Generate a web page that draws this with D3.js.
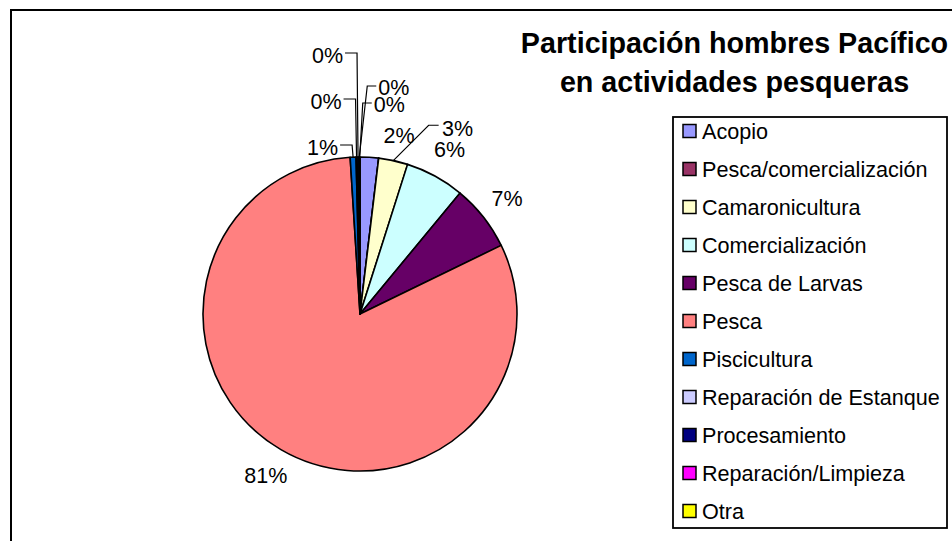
<!DOCTYPE html>
<html>
<head>
<meta charset="utf-8">
<script src="https://cdn.jsdelivr.net/npm/d3@7"></script>
<style>
  body { margin: 0; background: #fff; }
  svg { display: block; font-family: "Liberation Sans", Arial, sans-serif; }
</style>
</head>
<body>
<div id="chart"></div>
<script>
const categories = ['Acopio', 'Pesca/comercialización', 'Camaronicultura', 'Comercialización',
    'Pesca de Larvas', 'Pesca', 'Piscicultura', 'Reparación de Estanque', 'Procesamiento',
    'Reparación/Limpieza', 'Otra'];
const shares = [1.9, 0, 3.0, 6.1, 6.8, 81.2, 0.6, 0.1, 0.2, 0.05, 0.05];
const colors = ['#9999FF', '#993366', '#FFFFCC', '#CCFFFF', '#660066', '#FF8080',
    '#0066CC', '#CCCCFF', '#000080', '#FF00FF', '#FFFF00'];
const titleLines = ['Participación hombres Pacífico', 'en actividades pesqueras'];

const width = 952, height = 541;
const cx = 360, cy = 314, radius = 157;
const labelRadius = 187;

// Excel "best fit" moved a couple of labels, keep those nudges here
const labelShift = {
    'Acopio': { dx: 28, dy: 8 },
    'Camaronicultura': { dx: 58, dy: -3, leader: true }
};

const data = categories.map((c, i) => ({ name: c, value: shares[i], color: colors[i] }));
const total = d3.sum(data, d => d.value);
const fmt = d3.format('.0%');

const svg = d3.select('#chart').append('svg')
    .attr('width', width)
    .attr('height', height);

// chart area border (cut by the page on right / bottom)
svg.append('rect')
    .attr('x', 11).attr('y', 10)
    .attr('width', 1000).attr('height', 600)
    .attr('fill', 'none').attr('stroke', '#000').attr('stroke-width', 2);

const pie = d3.pie().sort(null).value(d => d.value);
const arcs = pie(data);
const arc = d3.arc().innerRadius(0).outerRadius(radius);

const g = svg.append('g').attr('transform', `translate(${cx},${cy})`);

g.selectAll('path')
    .data(arcs)
    .join('path')
    .attr('d', arc)
    .attr('fill', d => d.data.color)
    .attr('stroke', '#000')
    .attr('stroke-width', 1.6)
    .attr('stroke-linejoin', 'round');

const pt = (a, r) => [r * Math.sin(a), -r * Math.cos(a)];
const mid = d => (d.startAngle + d.endAngle) / 2;

const labels = g.append('g')
    .style('font-size', '21.5px')
    .attr('fill', '#000');
const leaders = g.append('g')
    .attr('fill', 'none')
    .attr('stroke', '#000')
    .attr('stroke-width', 1.2);

const visible = arcs.filter(d => d.value > 0);
const big = visible.filter(d => d.value / total >= 0.01);
const tiny = visible.filter(d => d.value / total < 0.01);

big.forEach(d => {
    let [x, y] = pt(mid(d), labelRadius);
    const s = labelShift[d.data.name];
    if (s) { x += s.dx; y += s.dy; }
    labels.append('text')
        .attr('x', x).attr('y', y)
        .attr('dy', '0.35em')
        .attr('text-anchor', 'middle')
        .text(fmt(d.value / total));
    if (s && s.leader) {
        const a = pt(mid(d), radius);
        const xe = x - 19;
        leaders.append('polyline')
            .attr('points', [a, [xe - 10, y - 3], [xe, y - 3]].map(p => p.join(',')).join(' '));
    }
});

// tiny slices: first three stacked on the left, the rest on the right
const pieTop = -radius;
tiny.forEach((d, i) => {
    const a = pt(mid(d), radius);
    let ex, ey, tx, anchor, ty;
    if (i < 3) {
        ey = pieTop - 12 - 46 * i;
        ex = a[0] - 1;
        tx = ex - 14;
        ty = ey + 2;
        anchor = 'end';
    } else {
        const k = tiny.length - 1 - i;
        ey = pieTop - 54 - 17 * k;
        ex = a[0] + 3 + 5 * k;
        tx = ex + 11;
        ty = ey + 1;
        anchor = 'start';
    }
    leaders.append('polyline')
        .attr('points', [a, [ex, ey], [anchor === 'end' ? tx + 2 : tx - 2, ey]].map(p => p.join(',')).join(' '));
    labels.append('text')
        .attr('x', tx).attr('y', ty)
        .attr('dy', '0.35em')
        .attr('text-anchor', anchor)
        .text(fmt(d.value / total));
});

// title
svg.append('g')
    .attr('text-anchor', 'middle')
    .style('font-size', '28.7px')
    .style('font-weight', 'bold')
    .selectAll('text')
    .data(titleLines)
    .join('text')
    .attr('x', 734.5)
    .attr('y', (d, i) => 53 + i * 39)
    .text(d => d);

// legend
const legend = svg.append('g');
legend.append('rect')
    .attr('x', 673).attr('y', 117)
    .attr('width', 274).attr('height', 411)
    .attr('fill', '#fff').attr('stroke', '#000').attr('stroke-width', 1.8);

const rowY = d3.scalePoint().domain(categories).range([131, 511]);

const item = legend.selectAll('g.item')
    .data(data)
    .join('g')
    .attr('class', 'item')
    .attr('transform', d => `translate(683,${rowY(d.name)})`);

item.append('rect')
    .attr('x', 0).attr('y', -6.5)
    .attr('width', 13).attr('height', 13)
    .attr('fill', d => d.color)
    .attr('stroke', '#000').attr('stroke-width', 1.5);

item.append('text')
    .attr('x', 19)
    .attr('dy', '0.35em')
    .style('font-size', '21.6px')
    .text(d => d.name);
</script>
</body>
</html>
